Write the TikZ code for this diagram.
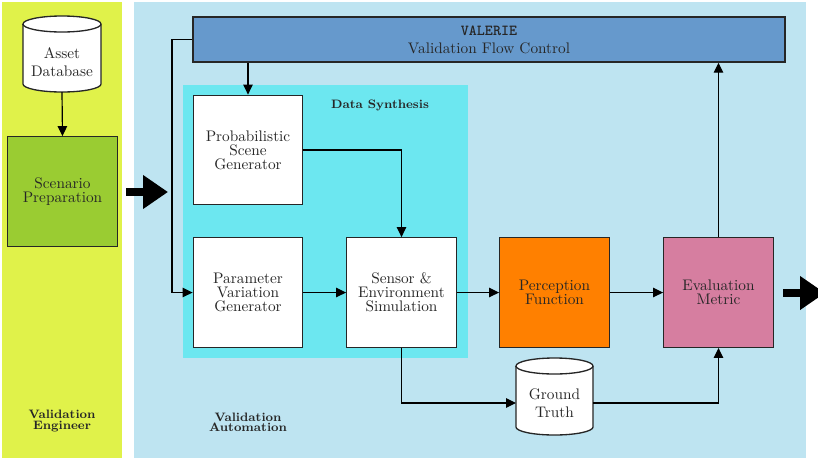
\documentclass[tikz,border=0pt]{standalone}
\usetikzlibrary{arrows.meta}
\definecolor{engbg}{RGB}{224,242,74}
\definecolor{autobg}{RGB}{190,228,241}
\definecolor{synthbg}{RGB}{108,231,240}
\definecolor{flowbar}{RGB}{102,153,204}
\definecolor{prepgreen}{RGB}{154,204,50}
\definecolor{percorange}{RGB}{255,128,0}
\definecolor{evalpink}{RGB}{214,126,160}
\begin{document}
\begin{tikzpicture}[x=0.68pt,y=-0.68pt,
  every node/.style={text=black!85},
  block/.style={draw=black!85,line width=0.9pt,fill=white,minimum width=74.5pt,minimum height=74.5pt,
    inner sep=0pt,align=center,font=\fontsize{10.4pt}{9.6pt}\selectfont},
  dblabel/.style={align=center,inner sep=0pt,font=\fontsize{10.4pt}{12.2pt}\selectfont},
  lanelabel/.style={align=center,inner sep=0pt,font=\fontsize{8.3pt}{7pt}\selectfont\bfseries},
  cyl/.style={draw=black!85,line width=0.9pt,fill=white},
  arr/.style={draw=black,line width=0.8pt,-{Triangle[length=6.8pt,width=6.5pt]}},
  bigarr/.style={draw=black,line width=5.4pt,-{Triangle[length=17pt,width=22pt]}}]
\useasboundingbox (0,0) rectangle (818,457);

% lanes and the data synthesis area
\fill[engbg] (2,2) rectangle (122,460);
\fill[autobg] (134,2) rectangle (806,460);
\fill[synthbg] (183,85) rectangle (468,358);

% lane captions
\node[lanelabel] (engineer) at (62,421) {Validation\\Engineer};
\node[lanelabel] (automation) at (248,422) {Validation\\Automation};
\node[font=\fontsize{8.3pt}{10pt}\selectfont\bfseries] (synth) at (380,105) {Data Synthesis};

% flow control bar
\node[draw=black!85,line width=1pt,fill=flowbar,minimum width=402.6pt,minimum height=30.6pt,
  inner sep=0pt,align=center,font=\fontsize{10.4pt}{12.2pt}\selectfont] (valerie) at (489,39.5)
  {{\ttfamily\bfseries VALERIE}\\Validation Flow Control};

% asset database cylinder
\path[cyl] (23,24) -- (23,84) arc[start angle=180,end angle=360,x radius=26.52pt,y radius=5.44pt]
  -- (101,24) arc[start angle=0,end angle=180,x radius=26.52pt,y radius=5.44pt] -- cycle;
\draw[draw=black!85,line width=0.9pt] (23,24) arc[start angle=180,end angle=360,x radius=26.52pt,y radius=5.44pt];
\node[dblabel,minimum width=53pt] (asset) at (62,62) {Asset\\Database};

% ground truth cylinder
\path[cyl] (516,366) -- (516,427) arc[start angle=180,end angle=360,x radius=26.18pt,y radius=5.44pt]
  -- (593,366) arc[start angle=0,end angle=180,x radius=26.18pt,y radius=5.44pt] -- cycle;
\draw[draw=black!85,line width=0.9pt] (516,366) arc[start angle=180,end angle=360,x radius=26.18pt,y radius=5.44pt];
\node[dblabel] (gt) at (554.5,403) {Ground\\Truth};
\coordinate (gtin) at (516,403);
\coordinate (gtout) at (593,403);
\coordinate (assetout) at (62,92);

% process blocks
\node[block,fill=prepgreen] (prep) at (62.5,191.5) {Scenario\\Preparation};
\node[block] (prob) at (248,150) {Probabilistic\\Scene\\Generator};
\node[block] (param) at (248,292.5) {Parameter\\Variation\\Generator};
\node[block] (sensor) at (401.5,292.5) {Sensor \&\\Environment\\Simulation};
\node[block,fill=percorange] (percep) at (554.5,292.5) {Perception\\Function};
\node[block,fill=evalpink] (eval) at (718.5,292.5) {Evaluation\\Metric};

% connectors
\coordinate (loopx) at (172,0);
\draw[arr] (assetout) -- (prep.north);
\draw[arr] (valerie.west) -- (valerie.west -| loopx) |- (param.west);
\draw[arr] (prob.north |- valerie.south) -- (prob.north);
\draw[arr] (prob.east) -| (sensor.north);
\draw[arr] (param.east) -- (sensor.west);
\draw[arr] (sensor.east) -- (percep.west);
\draw[arr] (percep.east) -- (eval.west);
\draw[arr] (sensor.south) |- (gtin);
\draw[arr] (gtout) -| (eval.south);
\draw[arr] (eval.north) -- (eval.north |- valerie.south);

% hand-over arrows between lanes
\coordinate (hand1a) at (126,192);
\coordinate (hand1b) at (168,192);
\coordinate (hand2a) at (783,293);
\coordinate (hand2b) at (825,293);
\draw[bigarr] (hand1a) -- (hand1b);
\draw[bigarr] (hand2a) -- (hand2b);
\end{tikzpicture}
\end{document}
